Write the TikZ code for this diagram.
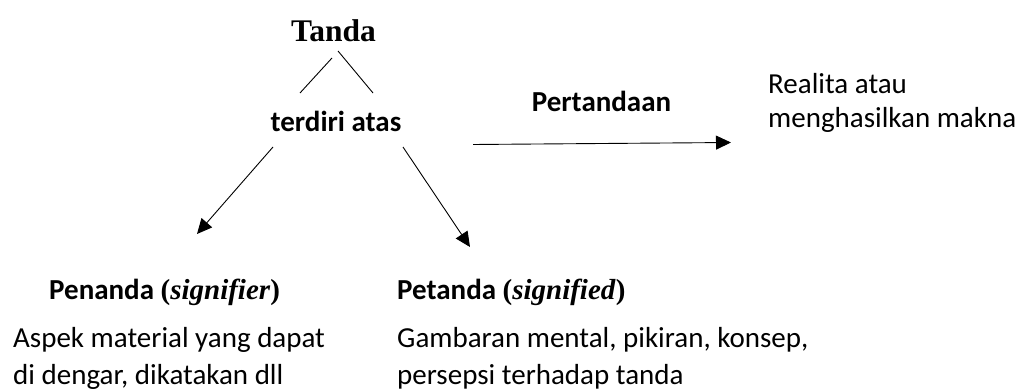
\documentclass[tikz,border=0pt]{standalone}
\usepackage{fontspec}
\setmainfont{Carlito}
\newfontfamily\timesf{Liberation Serif}
\usetikzlibrary{arrows.meta}
\begin{document}
\begin{tikzpicture}[x=1pt,y=1pt,
  txt/.style={inner sep=0pt, anchor=base west, font=\fontsize{29}{35}\selectfont},
  btxt/.style={inner sep=0pt, anchor=base west, font=\fontsize{29}{35}\selectfont\bfseries},
  conn/.style={line width=0.9pt},
  arr/.style={conn, -{Triangle[length=15pt,width=14pt]}}]
\useasboundingbox (0,0) rectangle (1023,-390);
% texts
\node[inner sep=0pt, anchor=base, font=\timesf\bfseries\fontsize{31.5}{36}\selectfont] (tanda) at (333.5,-42) {Tanda};
\node[btxt, anchor=base] (terdiri) at (336,-132) {terdiri atas};
\node[btxt, anchor=base] (pertandaan) at (601.5,-112) {Pertandaan};
\node[txt] (realita) at (768,-94) {Realita atau};
\node[txt] (makna) at (768,-128) {menghasilkan makna};
\node[btxt] (penanda) at (49,-299) {Penanda {\timesf(\textit{signifier})}};
\node[btxt] (petanda) at (397,-299) {Petanda {\timesf(\textit{signified})}};
\node[txt] (aspek1) at (13,-347) {Aspek material yang dapat};
\node[txt] (aspek2) at (13,-384) {di dengar, dikatakan dll};
\node[txt] (gamb1) at (397,-347) {Gambaran mental, pikiran, konsep,};
\node[txt] (gamb2) at (397,-384) {persepsi terhadap tanda};
% connector end points
\coordinate (t1) at (332,-58);
\coordinate (t2) at (300,-93);
\coordinate (t3) at (338,-51);
\coordinate (t4) at (373,-93);
\coordinate (a1s) at (273,-147);
\coordinate (a1e) at (197,-234);
\coordinate (a2s) at (403,-147);
\coordinate (a2e) at (470,-247);
\coordinate (h1) at (473,-144.5);
\coordinate (h2) at (731,-142.5);
% connectors
\draw[conn] (t1) -- (t2);
\draw[conn] (t3) -- (t4);
\draw[arr] (a1s) -- (a1e);
\draw[arr] (a2s) -- (a2e);
\draw[arr] (h1) -- (h2);
\end{tikzpicture}
\end{document}
